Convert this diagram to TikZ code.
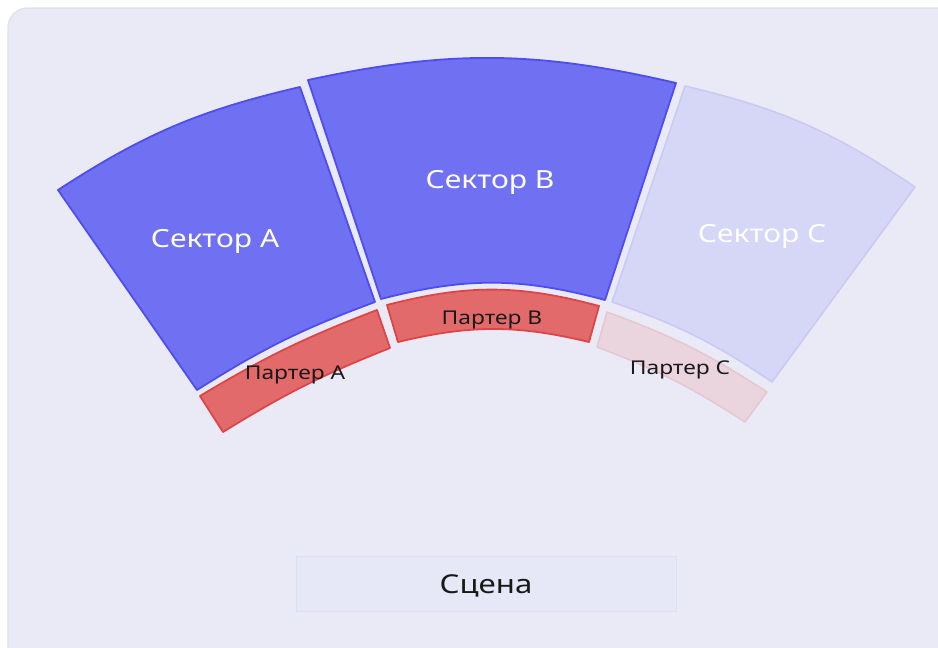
\documentclass[tikz,border=0pt]{standalone}
\usepackage{fontspec}
\setmainfont{Noto Sans}
\newfontfamily\widefont[FakeStretch=1.2]{Noto Sans}
\definecolor{panel}{HTML}{EAEAF6}
\definecolor{panelline}{HTML}{E1E1EB}
\definecolor{bluefill}{HTML}{7070F2}
\definecolor{blueline}{HTML}{4D4DF0}
\definecolor{redfill}{HTML}{E36A6A}
\definecolor{redline}{HTML}{E04545}
\definecolor{palefill}{HTML}{D6D6F6}
\definecolor{paleline}{HTML}{C9C9F5}
\definecolor{pinkfill}{HTML}{EAD5DF}
\definecolor{pinkline}{HTML}{E5C7D2}
\definecolor{stagefill}{HTML}{E6E8F7}
\definecolor{stageline}{HTML}{DDE0F2}
\tikzset{
  sectorbox/.style={fill=bluefill,draw=blueline,line width=1.8pt,line join=round},
  sectorpale/.style={fill=palefill,draw=paleline,line width=1.5pt,line join=round},
  parterbox/.style={fill=redfill,draw=redline,line width=1.8pt,line join=round},
  parterpale/.style={fill=pinkfill,draw=pinkline,line width=1.5pt,line join=round},
  biglabel/.style={text=white,font=\widefont\fontsize{25}{30}\selectfont,inner sep=0pt},
  smalllabel/.style={text=black!90,font=\widefont\fontsize{19}{22}\selectfont,inner sep=0pt},
}
\begin{document}
\begin{tikzpicture}[x=1pt,y=-1pt]
\useasboundingbox (0,0) rectangle (938,648);
\fill[white] (0,0) rectangle (938,648);
\draw[fill=panel,draw=panelline,line width=1.5pt,rounded corners=20pt] (8,8) rectangle (980,700);
% sectors
\draw[sectorbox] (58,190) to[bend left=10] (300,87) -- (375,302) to[bend right=6] (197,390) -- cycle;
\draw[sectorbox] (308,80) to[bend left=12.6] (676,83) -- (605,300) to[bend right=14.8] (381,299) -- cycle;
\draw[sectorpale] (685,86) to[bend left=10.5] (915,187) -- (772,382) to[bend right=7.5] (612,302) -- cycle;
% parter
\draw[parterbox] (200,396) to[bend left=5] (377,310) -- (390,348) to[bend right=5] (223,432) -- cycle;
\draw[parterbox] (387,305) to[bend left=14.8] (599,306) -- (589,342) to[bend right=13.5] (398,342) -- cycle;
\draw[parterpale] (607,312) to[bend left=6.5] (767,392) -- (745,422) to[bend right=6] (597,347) -- cycle;
% labels
\node[biglabel] (sa) at (215,241.5) {Сектор A};
\node[biglabel] (sb) at (490,182.5) {Сектор B};
\node[biglabel] (sc) at (762,236.5) {Сектор C};
\node[smalllabel] (pa) at (295,374.5) {Партер A};
\node[smalllabel] (pb) at (492,319.5) {Партер B};
\node[smalllabel] (pc) at (680,369.5) {Партер C};
% stage
\node[draw=stageline,fill=stagefill,line width=1pt,minimum width=380pt,minimum height=55pt,inner sep=0pt,font=\widefont\fontsize{26}{30}\selectfont,text=black!90] (stage) at (486,584) {};
\node[font=\widefont\fontsize{26}{30}\selectfont,text=black!90,inner sep=0pt] (stagetext) at (486,586) {Сцена};
\end{tikzpicture}
\end{document}
